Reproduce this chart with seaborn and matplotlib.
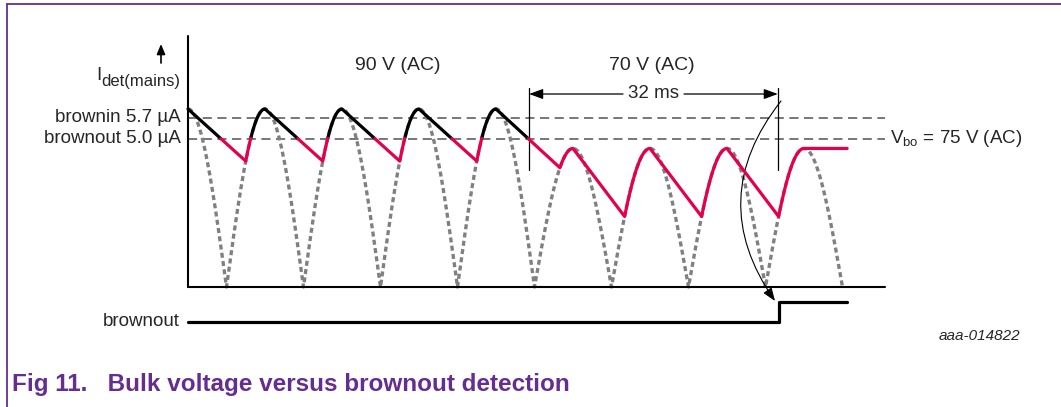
import numpy as np
import pandas as pd
import matplotlib
matplotlib.use("Agg")
import matplotlib.pyplot as plt
import seaborn as sns

# values (schematic timing diagram)
mains_labels = ["90 V (AC)", "70 V (AC)"]
peak_current = [6.0, 4.67]        # I_det at the mains peak, uA (90 V, 70 V)
switch_time = 45                  # ms, mains drops from 90 V to 70 V
half_period = 10                  # ms, rectified 50 Hz
sine_end = 85                     # ms, end of dotted rectified mains
trough_times = [7.5, 17.5, 27.5, 37.5, 48.3, 56.7, 66.7, 76.7]  # ms
hold_time = [80, 85.6]            # last peak held flat
threshold_levels = [5.7, 5.0]
threshold_labels = ["brownin 5.7 µA", "brownout 5.0 µA"]
bracket_times = [44.3, 76.6]
bracket_label = "32 ms"
brownout_times = [0, 76.7, 76.7, 85.6]
brownout_state = [0, 0, 1, 1]
axis_end = 90.5

# layout of the original picture, in pixels
W, H = 1061, 407
x0_px, y0_px = 188, 287
px_per_ms, px_per_ua = 7.7, 29.67
purple = "#662d91"
red = "#e5004e"


def d(xp, yp):
    # picture pixel -> data coordinates
    return (xp - x0_px) / px_per_ms, (y0_px - yp) / px_per_ua


def rectified(t):
    amp = np.where(t < switch_time, peak_current[0], peak_current[1])
    return amp * np.abs(np.cos(np.pi * t / half_period))


sns.set_theme(style="white")
plt.rcParams["font.family"] = ["Liberation Sans", "DejaVu Sans"]

fig = plt.figure(figsize=(W / 100, H / 100), dpi=100)
ax = fig.add_axes([0, 0, 1, 1])
ax.set_xlim(d(0, 0)[0], d(W, 0)[0])
ax.set_ylim(d(0, H)[1], d(0, 0)[1])
ax.axis("off")

# dotted rectified mains
ts = np.arange(0, sine_end + 0.001, 0.01)
sine_df = pd.DataFrame({"t": ts, "I": rectified(ts)})
sns.lineplot(data=sine_df, x="t", y="I", color="#808080", lw=2.4,
             linestyle=(0, (1.5, 1.0)), sort=False, ax=ax, zorder=2)

# peak-hold envelope of the detector
t = np.arange(0, hold_time[1] + 0.001, 0.01)
env = rectified(t)
for tr in trough_times:
    tp = np.floor(tr / half_period) * half_period
    i_p, i_tr = rectified(np.array([tp, tr]))
    m = (t >= tp) & (t <= tr)
    env[m] = i_p + (i_tr - i_p) * (t[m] - tp) / (tr - tp)
env[t >= hold_time[0]] = rectified(np.array([hold_time[0]]))[0]

below = env < threshold_levels[1]
seg = np.concatenate([[0], np.cumsum(below[1:] != below[:-1])])
parts = []
for s in np.unique(seg):
    idx = np.where(seg == s)[0]
    idx = np.append(idx, min(idx[-1] + 1, len(t) - 1))
    parts.append(pd.DataFrame({"t": t[idx], "I": env[idx], "seg": s,
                               "level": "below" if below[idx[0]] else "above"}))
env_df = pd.concat(parts)
sns.lineplot(data=env_df, x="t", y="I", hue="level", units="seg",
             estimator=None, sort=False, palette={"above": "black", "below": red},
             lw=2.3, legend=False, ax=ax, zorder=4)

# thresholds
for lvl in threshold_levels:
    ax.plot([0, axis_end], [lvl, lvl], color="#606060", lw=1.2,
            dashes=(5.5, 3.3), zorder=1)

# axes
ax.plot([0, 0], [0, d(0, 36)[1]], color="black", lw=1.5, zorder=5)
ax.plot([0, axis_end], [0, 0], color="black", lw=1.5, zorder=5)

# brownout output
low, high = d(0, 322)[1], d(0, 302)[1]
bo_df = pd.DataFrame({"t": brownout_times,
                      "v": [low + s * (high - low) for s in brownout_state],
                      "u": 0})
sns.lineplot(data=bo_df, x="t", y="v", units="u", estimator=None, color="black",
             lw=2.3, sort=False, ax=ax)

# 32 ms bracket
yb0, yb1 = d(0, 170)[1], d(0, 88)[1]
for bt in bracket_times:
    ax.plot([bt, bt], [yb0, yb1], color="black", lw=0.9)
ya = d(0, 94)[1]
head = "-|>,head_length=0.6,head_width=0.22"
ax.annotate("", xy=(bracket_times[0], ya), xytext=(d(623, 0)[0], ya),
            arrowprops=dict(arrowstyle=head, color="black", lw=0.9,
                            mutation_scale=14, shrinkA=0, shrinkB=0))
ax.annotate("", xy=(bracket_times[1], ya), xytext=(d(684, 0)[0], ya),
            arrowprops=dict(arrowstyle=head, color="black", lw=0.9,
                            mutation_scale=14, shrinkA=0, shrinkB=0))
ax.text(*d(654, 94), bracket_label, fontsize=13.5, ha="center", va="center")

# curved arrow to the brownout step
ax.annotate("", xy=d(775, 301), xytext=d(781, 101),
            arrowprops=dict(arrowstyle="-|>,head_length=0.8,head_width=0.3",
                            connectionstyle="arc3,rad=0.37", color="black",
                            lw=0.8, mutation_scale=10, shrinkA=0, shrinkB=0))

# texts
ax.text(*d(398, 65), mains_labels[0], fontsize=14, ha="center", va="center")
ax.text(*d(652, 65), mains_labels[1], fontsize=14, ha="center", va="center")
for lvl, lab in zip(threshold_levels, threshold_labels):
    ax.text(d(181, 0)[0], lvl, lab, fontsize=13.5, ha="right", va="center")
ax.text(*d(96, 80), "I", fontsize=13.5, ha="left", va="baseline")
ax.text(*d(101, 86), "det(mains)", fontsize=12, ha="left", va="baseline")
ax.annotate("", xy=d(161, 44), xytext=d(161, 63),
            arrowprops=dict(arrowstyle="-|>,head_length=0.6,head_width=0.25",
                            color="black", lw=1.2, mutation_scale=10,
                            shrinkA=0, shrinkB=0))
ax.text(d(890, 0)[0], threshold_levels[1], r"$\mathregular{V_{bo}}$ = 75 V (AC)",
        fontsize=13.5, ha="left", va="center")
ax.text(*d(180, 322), "brownout", fontsize=13.5, ha="right", va="center")
ax.text(*d(1020, 336), "aaa-014822", fontsize=11, style="italic",
        ha="right", va="center")
ax.text(*d(12, 384), "Fig 11.   Bulk voltage versus brownout detection",
        fontsize=17.5, fontweight="bold", color=purple, ha="left", va="center")

# frame
ax.plot([d(7, 0)[0], d(W, 0)[0]], [d(0, 4)[1]] * 2, color=purple, lw=1.3, clip_on=False)
ax.plot([d(7, 0)[0]] * 2, [d(0, 4)[1], d(0, H)[1]], color=purple, lw=1.3, clip_on=False)

fig.savefig("out.png", dpi=100)
